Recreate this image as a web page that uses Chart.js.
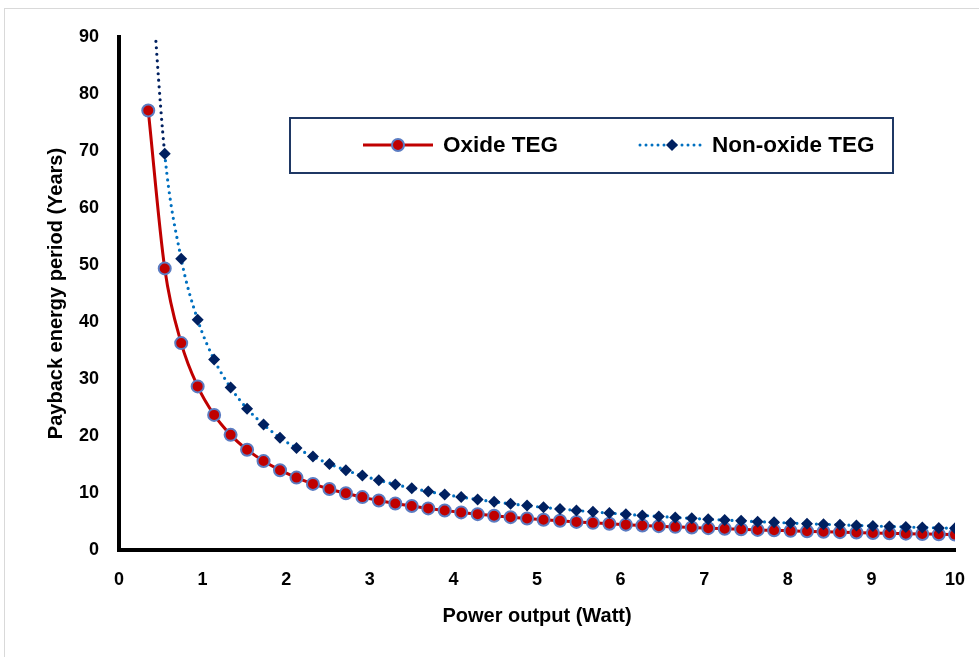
<!DOCTYPE html>
<html>
<head>
<meta charset="utf-8">
<script src="https://cdn.jsdelivr.net/npm/chart.js@4.4.1/dist/chart.umd.min.js"></script>
<style>
  html, body { margin: 0; padding: 0; background: #fff; }
  #wrap { position: relative; width: 979px; height: 657px; overflow: hidden; }
  #frame { position: absolute; left: 4px; top: 8px; width: 1100px; height: 800px; border: 1px solid #d9d9d9; }
  canvas { position: absolute; left: 0; top: 0; }
</style>
</head>
<body>
<div id="wrap">
  <div id="frame"></div>
  <canvas id="c" width="979" height="657"></canvas>
</div>
<script>
// Power output (Watt)
const powerOutput = [0.35, 0.547, 0.744, 0.941, 1.138, 1.335, 1.532, 1.729, 1.926, 2.123,
  2.32, 2.517, 2.714, 2.911, 3.108, 3.305, 3.502, 3.699, 3.896, 4.093,
  4.29, 4.487, 4.684, 4.881, 5.078, 5.275, 5.472, 5.669, 5.866, 6.063,
  6.26, 6.457, 6.654, 6.851, 7.048, 7.245, 7.442, 7.639, 7.836, 8.033,
  8.23, 8.427, 8.624, 8.821, 9.018, 9.215, 9.412, 9.609, 9.806, 10.0];
// Payback energy period (Years) - Oxide TEG
const oxideTEG = [77.1, 49.4, 36.3, 28.7, 23.7, 20.2, 17.6, 15.6, 14.0, 12.7,
  11.6, 10.7, 9.95, 9.28, 8.69, 8.17, 7.71, 7.30, 6.93, 6.60,
  6.29, 6.02, 5.76, 5.53, 5.32, 5.12, 4.93, 4.76, 4.60, 4.45,
  4.31, 4.18, 4.06, 3.94, 3.83, 3.73, 3.63, 3.53, 3.45, 3.36,
  3.28, 3.20, 3.13, 3.06, 2.99, 2.93, 2.87, 2.81, 2.75, 2.70];
// Payback energy period (Years) - Non-oxide TEG
const nonOxideTEG = [108.6, 69.5, 51.1, 40.4, 33.4, 28.5, 24.8, 22.0, 19.7, 17.9,
  16.4, 15.1, 14.0, 13.05, 12.23, 11.50, 10.85, 10.27, 9.75, 9.28,
  8.86, 8.47, 8.11, 7.79, 7.48, 7.20, 6.94, 6.70, 6.48, 6.27,
  6.07, 5.89, 5.71, 5.55, 5.39, 5.25, 5.11, 4.97, 4.85, 4.73,
  4.62, 4.51, 4.41, 4.31, 4.21, 4.12, 4.04, 3.95, 3.88, 3.80];
const seriesNames = ['Oxide TEG', 'Non-oxide TEG'];
const xTitle = 'Power output (Watt)';
const yTitle = 'Payback energy period (Years)';

const FONT = "'Liberation Sans', Arial, sans-serif";
const RED = '#C00000', RED_EDGE = '#5B7CC2', NAVY = '#002060', BLUE = '#0070C0';

const toPts = (ys) => ys.map((y, i) => ({ x: powerOutput[i], y }));

const legendPlugin = {
  id: 'boxLegend',
  afterDraw(chart) {
    const ctx = chart.ctx;
    ctx.save();
    ctx.strokeStyle = '#1F3864';
    ctx.lineWidth = 2;
    ctx.strokeRect(290, 118, 603, 55);
    const cy = 145;
    ctx.strokeStyle = RED; ctx.lineWidth = 3; ctx.setLineDash([]);
    ctx.beginPath(); ctx.moveTo(363, cy); ctx.lineTo(433, cy); ctx.stroke();
    ctx.beginPath(); ctx.arc(398, cy, 6, 0, Math.PI * 2);
    ctx.fillStyle = RED; ctx.fill(); ctx.lineWidth = 2; ctx.strokeStyle = RED_EDGE; ctx.stroke();
    ctx.strokeStyle = BLUE; ctx.lineWidth = 3; ctx.lineCap = 'round'; ctx.setLineDash([0, 6]);
    ctx.beginPath(); ctx.moveTo(640, cy); ctx.lineTo(704, cy); ctx.stroke();
    ctx.setLineDash([]);
    ctx.fillStyle = NAVY;
    ctx.beginPath(); ctx.moveTo(672, cy - 6); ctx.lineTo(678, cy); ctx.lineTo(672, cy + 6); ctx.lineTo(666, cy); ctx.closePath(); ctx.fill();
    ctx.fillStyle = '#000';
    ctx.font = "bold 22.5px " + FONT;
    ctx.textBaseline = 'middle';
    ctx.textAlign = 'left';
    ctx.fillText(seriesNames[0], 443, cy + 1);
    ctx.fillText(seriesNames[1], 712, cy + 1);
    ctx.restore();
  }
};

new Chart(document.getElementById('c'), {
  type: 'line',
  data: {
    datasets: [
      {
        label: seriesNames[0],
        data: toPts(oxideTEG),
        borderColor: RED,
        borderWidth: 3,
        backgroundColor: RED,
        pointRadius: 6,
        pointBorderWidth: 2,
        pointBackgroundColor: RED,
        pointBorderColor: RED_EDGE,
        cubicInterpolationMode: 'monotone',
        order: 1
      },
      {
        label: seriesNames[1],
        data: toPts(nonOxideTEG),
        borderColor: BLUE,
        borderWidth: 3.2,
        borderDash: [0, 6.5],
        borderCapStyle: 'round',
        pointStyle: 'rectRot',
        pointRadius: 6,
        pointBorderWidth: 0,
        pointBackgroundColor: NAVY,
        pointBorderColor: NAVY,
        cubicInterpolationMode: 'monotone',
        segment: { borderColor: (c) => c.p0DataIndex === 0 ? NAVY : undefined },
        order: 0
      }
    ]
  },
  options: {
    responsive: false,
    animation: false,
    layout: { padding: { left: 0, right: 24, top: 37, bottom: 0 } },
    plugins: { legend: { display: false }, tooltip: { enabled: false } },
    scales: {
      x: {
        type: 'linear', min: 0, max: 10,
        ticks: { stepSize: 1, color: '#000', font: { family: FONT, size: 18, weight: 'bold' }, padding: 19 },
        grid: { display: false, drawTicks: false },
        border: { display: true, color: '#000', width: 4 },
        title: { display: true, text: xTitle, color: '#000', font: { family: FONT, size: 20, weight: 'bold' }, padding: { top: 0, bottom: 29 } },
        afterFit: (s) => { s.height = 107; s.paddingLeft = 0; s.paddingRight = 10; }
      },
      y: {
        type: 'linear', min: 0, max: 90,
        ticks: { stepSize: 10, color: '#000', font: { family: FONT, size: 18, weight: 'bold' }, padding: 20 },
        grid: { display: false, drawTicks: false },
        border: { display: true, color: '#000', width: 4 },
        title: { display: true, text: yTitle, color: '#000', font: { family: FONT, size: 20, weight: 'bold' }, padding: { top: 44, bottom: 0 } },
        afterFit: (s) => { s.width = 119; }
      }
    }
  },
  plugins: [legendPlugin]
});
</script>
</body>
</html>
